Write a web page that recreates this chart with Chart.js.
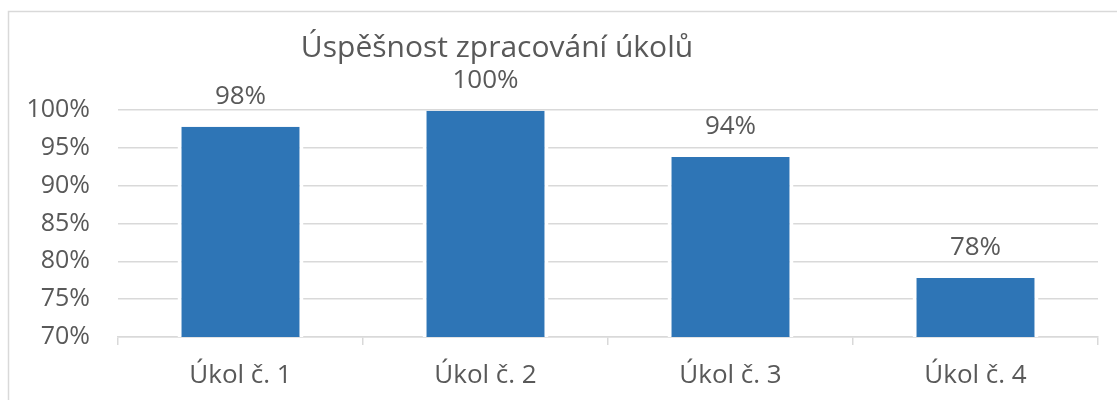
<html>
  <head>
    <title>Úspěšnost zpracování úkolů</title>
    <script type="text/javascript" src="https://cdn.jsdelivr.net/npm/chart.js@4/dist/chart.umd.min.js"></script>
    <style>
      body { margin: 0; background: #fff; }
    </style>
  </head>
  <body>
    <canvas id="TaskChart" width="1117" height="400" style="display: block;"></canvas>
    <script>
      var chartTitle = 'Úspěšnost zpracování úkolů';
      var categories = ['Úkol č. 1', 'Úkol č. 2', 'Úkol č. 3', 'Úkol č. 4'];
      var successRate = [97.8, 99.9, 93.8, 77.8];
      var yTicks = [70, 75, 80, 85, 90, 95, 100];

      var textColor = '#595959';
      var fontFamily = '"Open Sans", sans-serif';

      // frame + title drawn like the Excel chart
      var frameAndTitle = {
        id: 'frameAndTitle',
        beforeDraw: function(chart) {
          var c = chart.ctx;
          c.save();
          c.fillStyle = '#fff';
          c.fillRect(0, 0, chart.width, chart.height);
          c.strokeStyle = '#d9d9d9';
          c.lineWidth = 1.5;
          c.strokeRect(8.5, 11.5, 1300, 500);
          c.restore();
        },
        afterDraw: function(chart) {
          var c = chart.ctx;
          c.save();
          c.font = '30px ' + fontFamily;
          c.fillStyle = textColor;
          c.textAlign = 'center';
          c.textBaseline = 'middle';
          c.fillText(chartTitle, 497, 48);
          c.restore();
        }
      };

      // value labels above bars
      var valueLabels = {
        id: 'valueLabels',
        afterDatasetsDraw: function(chart) {
          var c = chart.ctx;
          var meta = chart.getDatasetMeta(0);
          c.save();
          c.font = '26px ' + fontFamily;
          c.fillStyle = textColor;
          c.textAlign = 'center';
          c.textBaseline = 'middle';
          meta.data.forEach(function(bar, i) {
            c.fillText(Math.round(successRate[i]) + '%', bar.x, bar.y - 30);
          });
          c.restore();
        }
      };

      var ctx = document.getElementById('TaskChart').getContext('2d');
      var chart = new Chart(ctx, {
        type: 'bar',
        data: {
          labels: categories,
          datasets: [{
            data: successRate,
            backgroundColor: '#2e75b6',
            borderColor: '#ffffff',
            borderWidth: { left: 4, right: 4, top: 0, bottom: 0 },
            borderSkipped: false,
            barPercentage: 0.514,
            categoryPercentage: 1
          }]
        },
        options: {
          responsive: false,
          animation: false,
          layout: { padding: { left: 0, right: 19, top: 110, bottom: 0 } },
          plugins: {
            legend: { display: false },
            title: { display: false },
            tooltip: { enabled: false }
          },
          scales: {
            x: {
              afterFit: function(scale) { scale.height = 63; },
              grid: {
                offset: true,
                drawOnChartArea: false,
                tickLength: 8,
                color: '#d9d9d9',
                lineWidth: 1.5
              },
              border: { display: true, color: '#d9d9d9', width: 1.5 },
              ticks: {
                color: textColor,
                font: { family: fontFamily, size: 26 },
                padding: 15
              }
            },
            y: {
              min: 70,
              max: 100,
              afterFit: function(scale) { scale.width = 118; },
              afterBuildTicks: function(scale) {
                scale.ticks = yTicks.map(function(v) { return { value: v }; });
              },
              grid: {
                drawTicks: false,
                color: '#d9d9d9',
                lineWidth: 1.5
              },
              border: { display: false },
              ticks: {
                color: textColor,
                font: { family: fontFamily, size: 25 },
                padding: 28,
                callback: function(v) { return v + '%'; }
              }
            }
          }
        },
        plugins: [frameAndTitle, valueLabels]
      });
    </script>
  </body>
</html>
